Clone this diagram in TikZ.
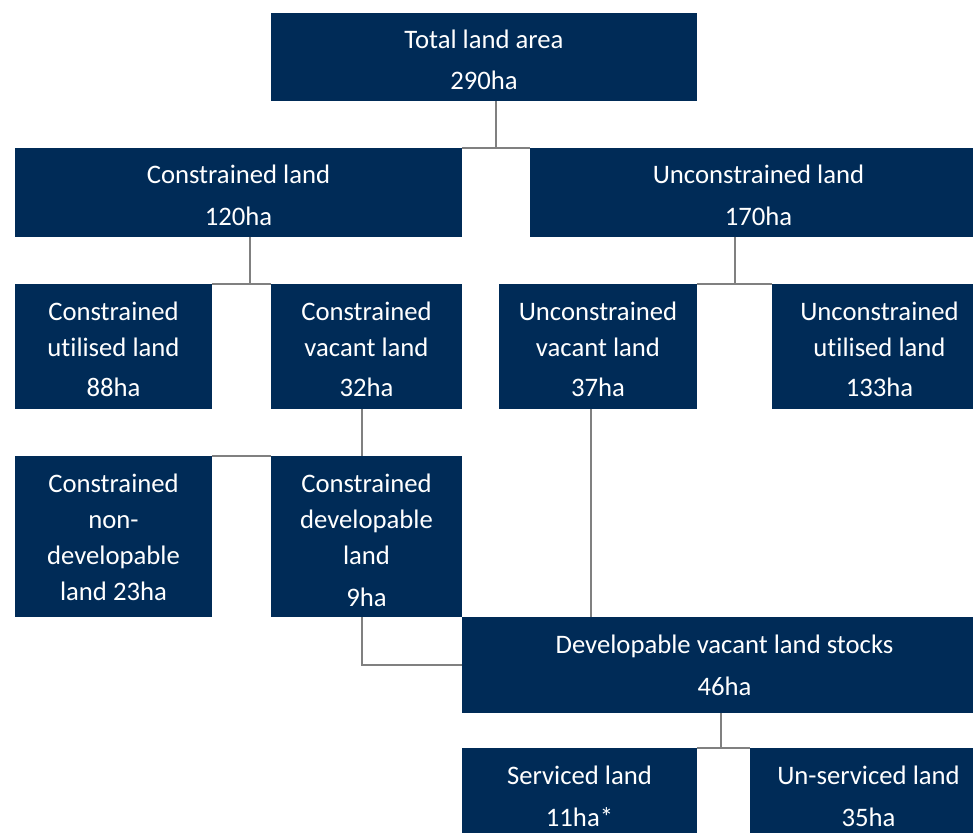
\documentclass[tikz,border=0pt]{standalone}
\usepackage{fontspec}
\setmainfont{Carlito}[Ligatures=NoCommon]
\usetikzlibrary{backgrounds,calc}
\definecolor{navy}{RGB}{0,43,87}
\definecolor{linkgray}{RGB}{128,128,128}
\tikzset{
  box/.style={fill=navy, inner sep=0pt, draw=none},
  lbl/.style={text=white, align=center, inner sep=0pt,
    font=\fontsize{26.7}{36}\selectfont},
  link/.style={draw=linkgray, line width=2pt}
}
\begin{document}
\begin{tikzpicture}[x=1pt,y=-1pt]
\useasboundingbox (0,0) rectangle (973,832);
\clip (0,0) rectangle (973,832);
\node[box, minimum width=426pt, minimum height=88pt,
  label={[lbl, yshift=-3pt, name=total-t]center:{Total land area\\[5pt]290ha}}] (total) at (484,57) {};
\node[box, minimum width=447pt, minimum height=89pt,
  label={[lbl, yshift=-3pt, name=cl-t]center:{Constrained land\\[6pt]120ha}}] (cl) at (238.5,192.5) {};
\node[box, minimum width=457pt, minimum height=89pt,
  label={[lbl, yshift=-3pt, name=ul-t]center:{Unconstrained land\\[6pt]170ha}}] (ul) at (758.5,192.5) {};
\node[box, minimum width=197pt, minimum height=125pt,
  label={[lbl, yshift=-3pt, name=cul-t]center:{Constrained\\utilised land\\[4pt]88ha}}] (cul) at (113.5,346.5) {};
\node[box, minimum width=191pt, minimum height=125pt,
  label={[lbl, yshift=-3pt, name=cvl-t]center:{Constrained\\vacant land\\[4pt]32ha}}] (cvl) at (366.5,346.5) {};
\node[box, minimum width=198pt, minimum height=125pt,
  label={[lbl, yshift=-3pt, name=uvl-t]center:{Unconstrained\\vacant land\\[4pt]37ha}}] (uvl) at (598,346.5) {};
\node[box, minimum width=215pt, minimum height=125pt,
  label={[lbl, yshift=-3pt, name=uul-t]center:{Unconstrained\\utilised land\\[4pt]133ha}}] (uul) at (879.5,346.5) {};
\node[box, minimum width=197pt, minimum height=161pt,
  label={[lbl, yshift=-1pt, name=cnd-t]center:{Constrained\\non-\\developable\\land 23ha}}] (cnd) at (113.5,536.5) {};
\node[box, minimum width=191pt, minimum height=161pt,
  label={[lbl, yshift=-4pt, name=cd-t]center:{Constrained\\developable\\land\\[6pt]9ha}}] (cd) at (366.5,536.5) {};
\node[box, minimum width=525pt, minimum height=96pt,
  label={[lbl, name=dv-t]center:{Developable vacant land stocks\\[6pt]46ha}}] (dv) at (724.5,665) {};
\node[box, minimum width=235pt, minimum height=98pt,
  label={[lbl, yshift=0.5pt, name=sl-t]center:{Serviced land\\[6pt]11ha*}}] (sl) at (579.5,797) {};
\node[box, minimum width=237pt, minimum height=98pt,
  label={[lbl, yshift=0.5pt, name=usl-t]center:{Un-serviced land\\[6pt]35ha}}] (usl) at (868.5,797) {};
\begin{pgfonlayer}{background}
  % total -> constrained / unconstrained
  \coordinate (j1) at ($(cl.north east)!0.5!(ul.north west)$);
  \draw[link] (cl.north east) -- (ul.north west);
  \draw[link] (j1) -- (j1 |- total.south);
  % constrained -> utilised / vacant
  \coordinate (j2) at (250,284);
  \draw[link] (cul.north east) -- (cvl.north west);
  \draw[link] (j2) -- (j2 |- cl.south);
  % unconstrained -> vacant / utilised
  \coordinate (j3) at ($(uvl.north east)!0.5!(uul.north west)$);
  \draw[link] (uvl.north east) -- (uul.north west);
  \draw[link] (j3) -- (j3 |- ul.south);
  % constrained vacant -> non-developable / developable
  \coordinate (j4) at (362,456);
  \draw[link] (cnd.north east) -- (cd.north west);
  \draw[link] (j4) -- (j4 |- cvl.south);
  % constrained developable -> developable stocks
  \coordinate (j5) at (362,665);
  \draw[link] (j5 |- cd.south) -- (j5) -- (dv.west);
  % unconstrained vacant -> developable stocks
  \coordinate (j6) at (591,617);
  \draw[link] (j6) -- (j6 |- uvl.south);
  % developable stocks -> serviced / un-serviced
  \coordinate (j7) at (721,748);
  \draw[link] (sl.north east) -- (usl.north west);
  \draw[link] (j7) -- (j7 |- dv.south);
\end{pgfonlayer}
\end{tikzpicture}
\end{document}
